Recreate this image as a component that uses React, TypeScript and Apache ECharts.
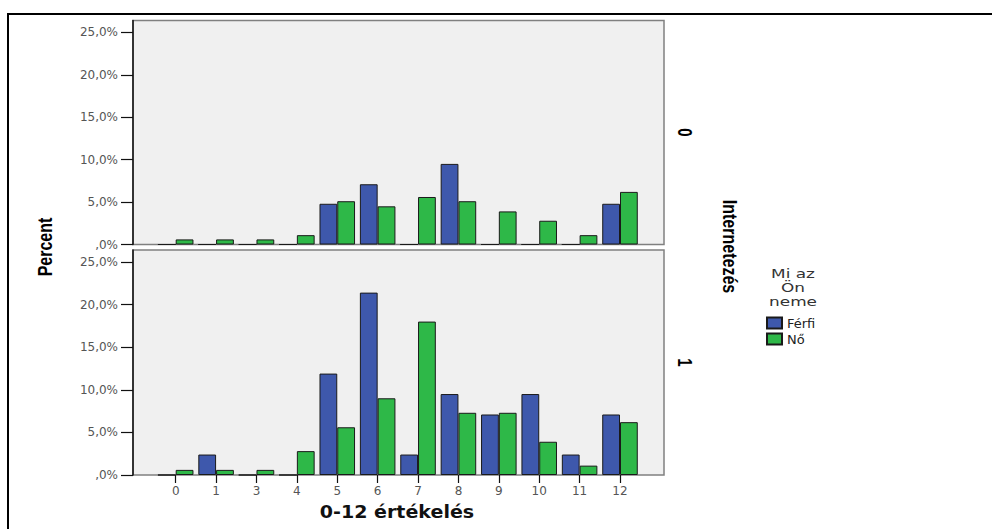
import React, { useEffect, useRef } from "react";
import * as echarts from "echarts";

const categories = ["0", "1", "3", "4", "5", "6", "7", "8", "9", "10", "11", "12"];
const topFerfi = [0, 0, 0, 0, 4.8, 7.1, 0, 9.5, 0, 0, 0, 4.8];
const topNo = [0.6, 0.6, 0.6, 1.1, 5.1, 4.5, 5.6, 5.1, 3.9, 2.8, 1.1, 6.2];
const botFerfi = [0, 2.4, 0, 0, 11.9, 21.4, 2.4, 9.5, 7.1, 9.5, 2.4, 7.1];
const botNo = [0.6, 0.6, 0.6, 2.8, 5.6, 9.0, 18.0, 7.3, 7.3, 3.9, 1.1, 6.2];
const yTicks = [0, 5, 10, 15, 20, 25];
const seriesNames = ["Férfi", "Nő"];
const panelLabels = ["0", "1"];

const BLUE = "#3E58AC";
const GREEN = "#2EB848";
const YMAX = 26.4;

const fmt = (v: number) => (v === 0 ? ",0%" : v.toFixed(1).replace(".", ",") + "%");

export default function App() {
  const ref = useRef<HTMLDivElement>(null);
  useEffect(() => {
    if (!ref.current) return;
    const chart = echarts.init(ref.current, undefined, { renderer: "svg" });
    const bgGrid = (top: number, height: number) => ({
      left: 133,
      top,
      width: 531,
      height,
      show: true,
      backgroundColor: "#f0f0f0",
      borderColor: "#808080",
      borderWidth: 1.5,
      outerBoundsMode: "none",
    });
    const barGrid = (top: number, height: number) => ({
      left: 155.5,
      top,
      width: 484.7,
      height,
      outerBoundsMode: "none",
    });
    const valueAxis = (gridIndex: number) => ({
      gridIndex,
      type: "value",
      min: 0,
      max: YMAX,
      axisLine: { show: true, lineStyle: { color: "#111", width: 1.5 } },
      axisTick: { show: true, length: 12, customValues: yTicks, lineStyle: { color: "#111", width: 1.2 } },
      axisLabel: {
        customValues: yTicks,
        formatter: fmt,
        margin: 15,
        color: "#555",
        fontFamily: "DejaVu Sans",
        fontSize: 12,
      },
      splitLine: { show: false },
    });
    const hiddenValue = (gridIndex: number) => ({ gridIndex, type: "value", min: 0, max: YMAX, show: false });
    const barStyle = (color: string) => ({ color, borderColor: "#1a1a1a", borderWidth: 1 });
    const mkSeries = (name: string, idx: number, data: number[], color: string) => ({
      name,
      type: "bar",
      xAxisIndex: idx,
      yAxisIndex: idx,
      data,
      itemStyle: barStyle(color),
      barGap: "0%",
      barCategoryGap: "12%",
    });
    const option: any = {
      animation: false,
      backgroundColor: "#ffffff",
      grid: [bgGrid(20.5, 224), bgGrid(250, 225), barGrid(20.5, 224), barGrid(250, 225)],
      xAxis: [
        { gridIndex: 0, type: "value", show: false },
        { gridIndex: 1, type: "value", show: false },
        { gridIndex: 2, type: "category", data: categories, show: false },
        {
          gridIndex: 3,
          type: "category",
          data: categories,
          axisLine: { show: false },
          axisTick: { show: true, alignWithLabel: true, length: 8, lineStyle: { color: "#111", width: 1.2 } },
          axisLabel: { margin: 10, color: "#555", fontFamily: "DejaVu Sans", fontSize: 12 },
        },
      ],
      yAxis: [valueAxis(0), valueAxis(1), hiddenValue(2), hiddenValue(3)],
      legend: {
        data: seriesNames,
        orient: "vertical",
        left: 766,
        top: 316.5,
        padding: 0,
        itemWidth: 15,
        itemHeight: 11,
        itemGap: 3,
        icon: "rect",
        selectedMode: false,
        textStyle: { fontFamily: "DejaVu Sans", fontSize: 13, color: "#222" },
      },
      series: [
        mkSeries(seriesNames[0], 2, topFerfi, BLUE),
        mkSeries(seriesNames[1], 2, topNo, GREEN),
        mkSeries(seriesNames[0], 3, botFerfi, BLUE),
        mkSeries(seriesNames[1], 3, botNo, GREEN),
      ],
      graphic: [
        {
          type: "rect",
          silent: true,
          shape: { x: 8, y: 14, width: 1200, height: 800 },
          style: { fill: "none", stroke: "#000", lineWidth: 2 },
        },
        {
          type: "text",
          x: 45,
          y: 247,
          rotation: Math.PI / 2,
          scaleY: 1.3,
          style: {
            text: "Percent",
            fontFamily: "Liberation Sans",
            fontWeight: "bold",
            fontSize: 16,
            fill: "#000",
            align: "center",
            verticalAlign: "middle",
          },
        },
        {
          type: "text",
          x: 397,
          y: 512,
          scaleX: 1.12,
          style: {
            text: "0-12 értékelés",
            fontFamily: "DejaVu Sans",
            fontWeight: "bold",
            fontSize: 17,
            fill: "#111",
            align: "center",
            verticalAlign: "middle",
          },
        },
        {
          type: "text",
          x: 685,
          y: 132.5,
          rotation: -Math.PI / 2,
          scaleY: 1.4,
          style: {
            text: panelLabels[0],
            fontFamily: "Liberation Sans",
            fontWeight: "bold",
            fontSize: 15,
            fill: "#000",
            align: "center",
            verticalAlign: "middle",
          },
        },
        {
          type: "text",
          x: 685,
          y: 362.5,
          rotation: -Math.PI / 2,
          scaleY: 1.4,
          style: {
            text: panelLabels[1],
            fontFamily: "Liberation Sans",
            fontWeight: "bold",
            fontSize: 15,
            fill: "#000",
            align: "center",
            verticalAlign: "middle",
          },
        },
        {
          type: "text",
          x: 730,
          y: 246.5,
          rotation: -Math.PI / 2,
          scaleY: 1.25,
          style: {
            text: "Internetezés",
            fontFamily: "Liberation Sans",
            fontWeight: "bold",
            fontSize: 16,
            fill: "#000",
            align: "center",
            verticalAlign: "middle",
          },
        },
        {
          type: "text",
          x: 793,
          y: 287.5,
          scaleX: 1.3,
          style: {
            text: "Mi az\nÖn\nneme",
            fontFamily: "DejaVu Sans",
            fontSize: 13,
            lineHeight: 14.3,
            fill: "#333",
            align: "center",
            verticalAlign: "middle",
          },
        },
      ],
    };
    chart.setOption(option);
    return () => chart.dispose();
  }, []);
  return (
    <div
      ref={ref}
      style={{ position: "absolute", left: 0, top: 0, width: 992, height: 529 }}
    />
  );
}
